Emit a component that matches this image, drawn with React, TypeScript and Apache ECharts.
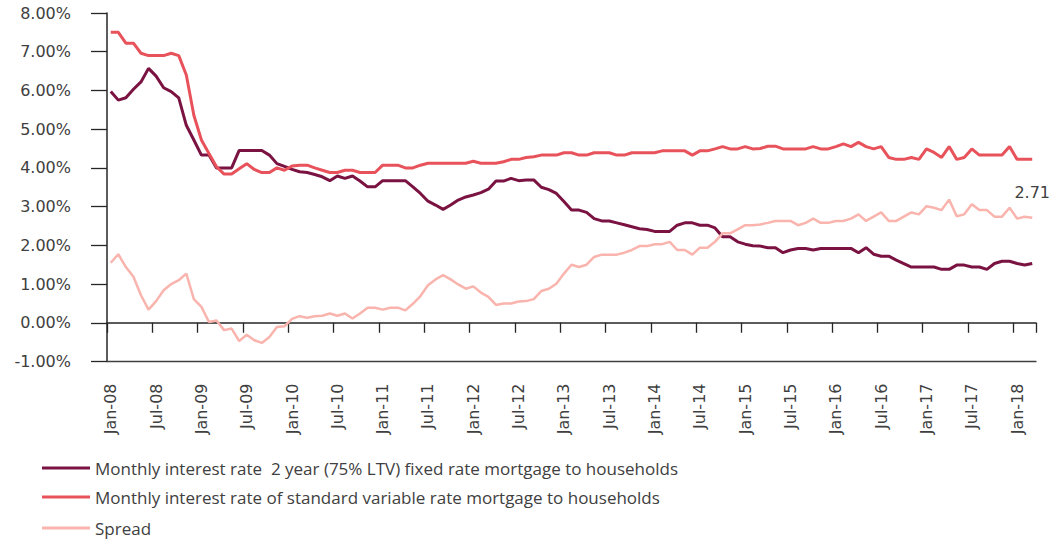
import React, { useEffect, useRef } from "react";
import * as echarts from "echarts";

const MONTHS = ["Jan", "Feb", "Mar", "Apr", "May", "Jun", "Jul", "Aug", "Sep", "Oct", "Nov", "Dec"];
const YEARS = ["08", "09", "10", "11", "12", "13", "14", "15", "16", "17", "18"];
const categories: string[] = [];
YEARS.forEach((y) => MONTHS.forEach((m) => categories.push(m + "-" + y)));
categories.length = 123; // Jan-08 .. Mar-18

const fixed2y = [
  5.97, 5.75, 5.81, 6.03, 6.22, 6.57, 6.37, 6.07, 5.97, 5.81, 5.10, 4.72,
  4.33, 4.33, 4.00, 4.00, 4.00, 4.45, 4.45, 4.45, 4.45, 4.33, 4.11, 4.04,
  3.96, 3.90, 3.88, 3.83, 3.77, 3.67, 3.79, 3.73, 3.79, 3.66, 3.51, 3.51,
  3.67, 3.67, 3.67, 3.67, 3.51, 3.34, 3.14, 3.04, 2.93, 3.04, 3.17, 3.25,
  3.30, 3.36, 3.45, 3.66, 3.66, 3.73, 3.67, 3.69, 3.69, 3.50, 3.44, 3.34,
  3.13, 2.91, 2.91, 2.85, 2.69, 2.63, 2.63, 2.58, 2.53, 2.48, 2.43, 2.41,
  2.36, 2.36, 2.36, 2.52, 2.58, 2.58, 2.52, 2.52, 2.45, 2.22, 2.22, 2.09,
  2.03, 1.99, 1.98, 1.94, 1.94, 1.81, 1.88, 1.92, 1.92, 1.88, 1.92, 1.92,
  1.92, 1.92, 1.92, 1.81, 1.94, 1.77, 1.72, 1.72, 1.62, 1.53, 1.44, 1.44,
  1.44, 1.44, 1.38, 1.38, 1.49, 1.49, 1.44, 1.44, 1.38, 1.53, 1.59, 1.59,
  1.53, 1.49, 1.53,
];

const svr = [
  7.50, 7.50, 7.22, 7.22, 6.96, 6.90, 6.90, 6.90, 6.96, 6.90, 6.40, 5.36,
  4.72, 4.37, 4.03, 3.84, 3.84, 3.98, 4.11, 3.96, 3.88, 3.88, 4.00, 3.94,
  4.05, 4.07, 4.07, 4.00, 3.94, 3.88, 3.88, 3.94, 3.94, 3.88, 3.88, 3.88,
  4.07, 4.07, 4.07, 4.00, 4.00, 4.07, 4.12, 4.12, 4.12, 4.12, 4.12, 4.12,
  4.17, 4.12, 4.12, 4.12, 4.16, 4.22, 4.22, 4.27, 4.29, 4.33, 4.33, 4.33,
  4.39, 4.39, 4.33, 4.33, 4.39, 4.39, 4.39, 4.33, 4.33, 4.39, 4.39, 4.39,
  4.39, 4.44, 4.44, 4.44, 4.44, 4.33, 4.44, 4.44, 4.49, 4.55, 4.49, 4.49,
  4.55, 4.49, 4.50, 4.56, 4.56, 4.49, 4.49, 4.49, 4.49, 4.55, 4.49, 4.49,
  4.55, 4.62, 4.55, 4.66, 4.55, 4.49, 4.55, 4.27, 4.22, 4.22, 4.27, 4.22,
  4.49, 4.40, 4.27, 4.55, 4.22, 4.27, 4.49, 4.33, 4.33, 4.33, 4.33, 4.55,
  4.22, 4.22, 4.22,
];

const spread = [
  1.55, 1.77, 1.44, 1.19, 0.71, 0.34, 0.56, 0.84, 1.00, 1.10, 1.27, 0.61,
  0.41, 0.02, 0.06, -0.19, -0.15, -0.47, -0.31, -0.45, -0.52, -0.37, -0.11, -0.09,
  0.10, 0.17, 0.13, 0.17, 0.18, 0.24, 0.18, 0.24, 0.11, 0.24, 0.39, 0.39,
  0.34, 0.39, 0.39, 0.32, 0.49, 0.69, 0.97, 1.12, 1.23, 1.12, 0.99, 0.88,
  0.94, 0.78, 0.67, 0.46, 0.50, 0.50, 0.55, 0.56, 0.61, 0.82, 0.88, 1.01,
  1.27, 1.50, 1.44, 1.50, 1.70, 1.76, 1.76, 1.76, 1.81, 1.88, 1.98, 1.98,
  2.03, 2.03, 2.09, 1.88, 1.88, 1.76, 1.94, 1.94, 2.09, 2.31, 2.31, 2.41,
  2.52, 2.52, 2.54, 2.58, 2.63, 2.63, 2.63, 2.52, 2.58, 2.69, 2.58, 2.58,
  2.63, 2.63, 2.69, 2.80, 2.63, 2.74, 2.85, 2.63, 2.63, 2.74, 2.85, 2.80,
  3.01, 2.97, 2.91, 3.18, 2.75, 2.80, 3.06, 2.91, 2.91, 2.74, 2.74, 2.97,
  2.69, 2.74, 2.71,
];

const seriesNames = [
  "Monthly interest rate  2 year (75% LTV) fixed rate mortgage to households",
  "Monthly interest rate of standard variable rate mortgage to households",
  "Spread",
];
const seriesColors = ["#7a1341", "#e8525b", "#f9b4ad"];
const legendTops = [458, 487, 518];

const AXIS_FONT = "DejaVu Sans";
const TEXT_COLOR = "#404040";

export default function App() {
  const ref = useRef<HTMLDivElement>(null);

  useEffect(() => {
    if (!ref.current) return;
    const chart = echarts.init(ref.current, undefined, { renderer: "svg" });
    const last = spread.length - 1;

    chart.setOption({
      animation: false,
      backgroundColor: "#ffffff",
      grid: { left: 107, right: 15, top: 13, bottom: 180.5, containLabel: false },
      legend: seriesNames.map((name, i) => ({
        orient: "vertical",
        left: 42,
        top: legendTops[i],
        padding: 0,
        icon: "rect",
        itemWidth: 48,
        itemHeight: 3,
        data: [name],
        selectedMode: false,
        textStyle: { fontFamily: "Open Sans", fontSize: 17, color: TEXT_COLOR, lineHeight: 20 },
      })),
      xAxis: [
        {
          type: "category",
          data: categories,
          boundaryGap: true,
          position: "bottom",
          axisLine: { show: true, onZero: true, lineStyle: { color: "#262626", width: 1.5 } },
          axisTick: { show: true, interval: 5, length: 10, alignWithLabel: false, lineStyle: { color: "#262626", width: 1.3 } },
          axisLabel: { show: false },
          splitLine: { show: false },
        },
        {
          type: "category",
          data: categories,
          boundaryGap: true,
          position: "bottom",
          axisLine: { show: true, onZero: false, lineStyle: { color: "#404040", width: 1.3 } },
          axisTick: { show: false },
          axisLabel: {
            show: true,
            interval: 5,
            rotate: 90,
            margin: 22,
            fontFamily: AXIS_FONT,
            fontSize: 16,
            color: TEXT_COLOR,
          },
          splitLine: { show: false },
        },
      ],
      yAxis: {
        type: "value",
        min: -1,
        max: 8,
        interval: 1,
        axisLine: { show: true, lineStyle: { color: "#262626", width: 1.5 } },
        axisTick: { show: true, length: 16, lineStyle: { color: "#262626", width: 1.3 } },
        axisLabel: {
          margin: 36,
          formatter: (v: number) => v.toFixed(2) + "%",
          fontFamily: AXIS_FONT,
          fontSize: 16,
          color: TEXT_COLOR,
        },
        splitLine: { show: false },
      },
      series: [
        {
          name: seriesNames[0],
          type: "line",
          data: fixed2y,
          symbol: "none",
          color: seriesColors[0],
          lineStyle: { color: seriesColors[0], width: 3 },
        },
        {
          name: seriesNames[1],
          type: "line",
          data: svr,
          symbol: "none",
          color: seriesColors[1],
          lineStyle: { color: seriesColors[1], width: 3 },
        },
        {
          name: seriesNames[2],
          type: "line",
          data: spread,
          symbol: "none",
          color: seriesColors[2],
          lineStyle: { color: seriesColors[2], width: 2.5 },
        },
      ],
    });

    // value label above the last Spread point, placed through the chart's own scales
    const pt = chart.convertToPixel({ seriesIndex: 2 }, [last, spread[last]]) as number[];
    chart.setOption({
      graphic: [
        {
          type: "text",
          x: pt[0],
          y: pt[1] - 25,
          style: {
            text: String(spread[last]),
            fontFamily: AXIS_FONT,
            fontSize: 16,
            fill: TEXT_COLOR,
            align: "center",
            verticalAlign: "middle",
          },
        },
      ],
    });

    return () => chart.dispose();
  }, []);

  return (
    <div
      ref={ref}
      style={{ position: "absolute", left: 0, top: 0, width: 1051, height: 542 }}
    />
  );
}
